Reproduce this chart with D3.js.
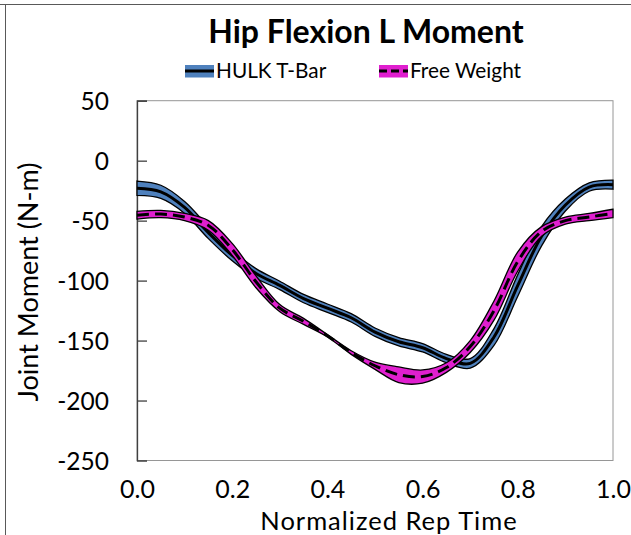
<!DOCTYPE html>
<html>
<head>
<meta charset="utf-8">
<script src="https://cdn.jsdelivr.net/npm/d3@7"></script>
<style>
  html, body { margin: 0; padding: 0; background: #fff; }
  svg { display: block; }
  text { font-family: Lato, "Open Sans", sans-serif; fill: #000; }
</style>
</head>
<body>
<svg id="chart" width="631" height="535"></svg>
<script>
// ---- data ----
const title = "Hip Flexion L Moment";
const xLabel = "Normalized Rep Time";
const yLabel = "Joint Moment (N-m)";
const seriesNames = ["HULK T-Bar", "Free Weight"];
const repTime = [0, 0.05, 0.10, 0.15, 0.20, 0.25, 0.30, 0.35, 0.40, 0.45, 0.50,
                 0.55, 0.60, 0.65, 0.70, 0.75, 0.80, 0.85, 0.90, 0.95, 1.00];
const hulkMean = [-23, -26, -39, -60, -79, -94, -104, -115, -123, -131, -143,
                  -151, -156, -165, -169, -147, -104, -63, -37, -22, -20];
const hulkSD   = [6, 5.5, 5, 5, 4.5, 4, 3.5, 3.5, 3.5, 3.5, 3.5,
                  3.5, 3.5, 3.5, 4, 7, 9, 8, 5, 3.5, 3.8];
const freeMean = [-45.5, -44.5, -47, -54, -74, -101, -123, -134, -146, -160, -171,
                  -178.5, -180, -172.5, -155, -125, -84, -59, -50, -47, -44];
const freeSD   = [3.2, 3, 3, 4, 5, 5, 3, 2.5, 1, 1.5, 3,
                  6.5, 5.5, 4, 5, 8, 8, 4, 3, 3, 3.5];
const xTicks = [0, 0.2, 0.4, 0.6, 0.8, 1.0];
const yTicks = [50, 0, -50, -100, -150, -200, -250];

// ---- layout ----
const svg = d3.select("#chart");
const plot = { left: 137, right: 613, top: 100.7, bottom: 460.5 };
const x = d3.scaleLinear().domain([0, 1]).range([plot.left, plot.right]);
const y = d3.scaleLinear().domain([-250, 50]).range([plot.bottom, plot.top]);

// outer frame lines
svg.append("line").attr("x1", 0).attr("x2", 631).attr("y1", 4.5).attr("y2", 4.5)
  .attr("stroke", "#595959").attr("stroke-width", 1);
svg.append("line").attr("x1", 5.5).attr("x2", 5.5).attr("y1", 4).attr("y2", 535)
  .attr("stroke", "#595959").attr("stroke-width", 1);

// plot border
svg.append("rect")
  .attr("x", plot.left).attr("y", plot.top)
  .attr("width", plot.right - plot.left).attr("height", plot.bottom - plot.top)
  .attr("fill", "none").attr("stroke", "#969696").attr("stroke-width", 1);

// y axis (ticks inward)
const yAxis = d3.axisLeft(y).tickValues(yTicks).tickSize(-10).tickPadding(28)
  .tickFormat(d3.format("d"));
const gy = svg.append("g").attr("transform", `translate(${plot.left},0)`).call(yAxis);
gy.select(".domain").attr("stroke", "#404040").attr("stroke-width", 1.3);
gy.selectAll(".tick line").attr("stroke", "#404040").attr("stroke-width", 1.3);
gy.selectAll(".tick text").attr("font-size", 24.5).attr("font-family", "Lato")
  .attr("dy", "0.35em").attr("fill", "#000")
  .text(d => d < 0 ? "-" + Math.abs(d) : d);
gy.selectAll(".tick").filter(d => d === -250).select("line").remove();

// x axis (labels only)
const xAxis = d3.axisBottom(x).tickValues(xTicks).tickSize(0).tickPadding(20)
  .tickFormat(d3.format(".1f"));
const gx = svg.append("g").attr("transform", `translate(0,${plot.bottom})`).call(xAxis);
gx.select(".domain").remove();
gx.selectAll(".tick text").attr("font-size", 25).attr("font-family", "Lato").attr("fill", "#000");

// series
const idx = d3.range(repTime.length);
function drawSeries(mean, sd, color, dash) {
  const area = d3.area()
    .x(i => x(repTime[i]))
    .y0(i => y(mean[i] - sd[i]))
    .y1(i => y(mean[i] + sd[i]))
    .curve(d3.curveCatmullRom.alpha(0.5));
  const line = d3.line()
    .x(i => x(repTime[i]))
    .y(i => y(mean[i]))
    .curve(d3.curveCatmullRom.alpha(0.5));
  svg.append("path").datum(idx).attr("d", area)
    .attr("fill", color).attr("stroke", "#000").attr("stroke-width", 1.3);
  svg.append("path").datum(idx).attr("d", line)
    .attr("fill", "none").attr("stroke", "#000").attr("stroke-width", 3)
    .attr("stroke-dasharray", dash || null);
}
const blue = "#4f81bd";
const pink = "#e01fcf";
drawSeries(hulkMean, hulkSD, blue, null);
drawSeries(freeMean, freeSD, pink, "12,6");

// title
svg.append("text").attr("x", 366).attr("y", 43).attr("text-anchor", "middle")
  .attr("font-size", 32).attr("font-weight", "bold").text(title);

// legend
const legend = [
  { name: seriesNames[0], color: blue, dash: null, x: 185 },
  { name: seriesNames[1], color: pink, dash: "8,4", x: 379 }
];
legend.forEach(l => {
  const g = svg.append("g").attr("transform", `translate(${l.x},71)`);
  g.append("rect").attr("x", 0).attr("y", -6).attr("width", 29).attr("height", 12.5)
    .attr("fill", l.color);
  g.append("line").attr("x1", 0).attr("x2", 29).attr("y1", 0).attr("y2", 0)
    .attr("stroke", "#000").attr("stroke-width", 3).attr("stroke-dasharray", l.dash);
  g.append("text").attr("x", 31).attr("y", 0).attr("dy", "0.35em")
    .attr("font-size", 20.8).text(l.name);
});

// axis titles
svg.append("text").attr("x", 389).attr("y", 529.5).attr("text-anchor", "middle")
  .attr("font-size", 25.5).attr("letter-spacing", 1).text(xLabel);
svg.append("text").attr("transform", `translate(38,282) rotate(-90)`)
  .attr("text-anchor", "middle").attr("font-size", 27).text(yLabel);
</script>
</body>
</html>
